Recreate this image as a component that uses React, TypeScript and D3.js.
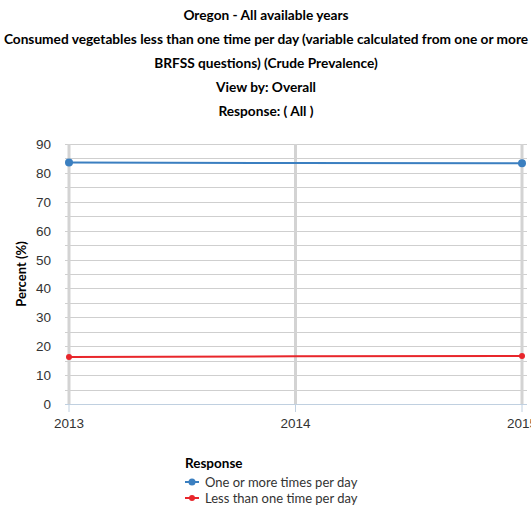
import React, { useEffect, useRef } from 'react';
import * as d3 from 'd3';

const years = ['2013', '2014', '2015'];
const oneOrMore = [83.6, 83.4, 83.3];
const lessThanOne = [16.3, 16.5, 16.6];
const seriesNames = ['One or more times per day', 'Less than one time per day'];
const seriesColors = ['#3b7fc0', '#e8262b'];
const yTicks = [0, 10, 20, 30, 40, 50, 60, 70, 80, 90];
const titleLines = [
  'Oregon - All available years',
  'Consumed vegetables less than one time per day (variable calculated from one or more',
  'BRFSS questions) (Crude Prevalence)',
  'View by: Overall',
  'Response: ( All )',
];

const W = 531;
const H = 508;
const plot = { left: 69, right: 522, top: 144, bottom: 404 };

export default function App() {
  const ref = useRef<SVGSVGElement | null>(null);

  useEffect(() => {
    document.body.style.margin = '0';
    document.body.style.overflow = 'hidden';

    const svg = d3.select(ref.current);
    svg.selectAll('*').remove();

    const x = d3.scalePoint().domain(years).range([plot.left, plot.right]);
    const y = d3.scaleLinear().domain([0, 90]).range([plot.bottom, plot.top]);

    // titles
    svg.append('g')
      .selectAll('text')
      .data(titleLines)
      .join('text')
      .attr('x', 266)
      .attr('y', (d, i) => 20 + i * 24)
      .attr('text-anchor', 'middle')
      .style('font-family', 'Lato')
      .style('font-weight', 'bold')
      .style('font-size', '13.7px')
      .attr('fill', '#000')
      .text(d => d);

    // horizontal grid, every 5
    const minor = d3.range(5, 91, 5);
    svg.append('g')
      .selectAll('line')
      .data(minor)
      .join('line')
      .attr('x1', plot.left - 4)
      .attr('x2', plot.right + 5)
      .attr('y1', d => Math.round(y(d)) + 0.5)
      .attr('y2', d => Math.round(y(d)) + 0.5)
      .attr('stroke', '#cfcfcf')
      .attr('stroke-width', 1);

    // vertical grid at years
    svg.append('g')
      .selectAll('line')
      .data(years)
      .join('line')
      .attr('x1', d => x(d)!)
      .attr('x2', d => x(d)!)
      .attr('y1', plot.top)
      .attr('y2', plot.bottom)
      .attr('stroke', '#d3d3d3')
      .attr('stroke-width', 3);

    // x axis line + ticks
    svg.append('line')
      .attr('x1', plot.left - 4)
      .attr('x2', plot.right + 5)
      .attr('y1', Math.round(y(0)) + 0.5)
      .attr('y2', Math.round(y(0)) + 0.5)
      .attr('stroke', '#c0d0e0');
    svg.append('g')
      .selectAll('line')
      .data(years)
      .join('line')
      .attr('x1', d => x(d)!)
      .attr('x2', d => x(d)!)
      .attr('y1', y(0))
      .attr('y2', y(0) + 8)
      .attr('stroke', '#c0d0e0');

    // y labels
    svg.append('g')
      .selectAll('text')
      .data(yTicks)
      .join('text')
      .attr('x', 51)
      .attr('y', d => y(d) + 5)
      .attr('text-anchor', 'end')
      .style('font-family', 'Liberation Sans, Arial, sans-serif')
      .style('font-size', '13.5px')
      .attr('fill', '#333')
      .text(d => d);

    // x labels
    svg.append('g')
      .selectAll('text')
      .data(years)
      .join('text')
      .attr('x', d => x(d)!)
      .attr('y', 428)
      .attr('text-anchor', 'middle')
      .style('font-family', 'Liberation Sans, Arial, sans-serif')
      .style('font-size', '13.5px')
      .attr('fill', '#333')
      .text(d => d);

    // y axis title
    svg.append('text')
      .attr('transform', `translate(26, ${(plot.top + plot.bottom) / 2}) rotate(-90)`)
      .attr('text-anchor', 'middle')
      .style('font-family', 'Lato')
      .style('font-weight', 'bold')
      .style('font-size', '13px')
      .attr('fill', '#000')
      .text('Percent (%)');

    // lines
    const data = [oneOrMore, lessThanOne];
    const line = d3.line<number>()
      .x((d, i) => x(years[i])!)
      .y(d => y(d));
    data.forEach((vals, k) => {
      svg.append('path')
        .datum(vals)
        .attr('d', line)
        .attr('fill', 'none')
        .attr('stroke', seriesColors[k])
        .attr('stroke-width', 2);
      svg.append('g')
        .selectAll('circle')
        .data(vals.map((v, i) => ({ v, yr: years[i] })).filter(d => d.yr !== years[1]))
        .join('circle')
        .attr('cx', d => x(d.yr)!)
        .attr('cy', d => y(d.v))
        .attr('r', k === 0 ? 4 : 3)
        .attr('fill', seriesColors[k]);
    });

    // legend
    const lg = svg.append('g').attr('transform', 'translate(185, 0)');
    lg.append('text')
      .attr('x', 0)
      .attr('y', 468)
      .style('font-family', 'Lato')
      .style('font-weight', 'bold')
      .style('font-size', '13.5px')
      .attr('fill', '#000')
      .text('Response');
    seriesNames.forEach((name, k) => {
      const yy = 482 + k * 16;
      lg.append('line')
        .attr('x1', 0).attr('x2', 14)
        .attr('y1', yy).attr('y2', yy)
        .attr('stroke', seriesColors[k])
        .attr('stroke-width', 2);
      lg.append('circle')
        .attr('cx', 7).attr('cy', yy)
        .attr('r', k === 0 ? 3.5 : 3)
        .attr('fill', seriesColors[k]);
      lg.append('text')
        .attr('x', 20)
        .attr('y', yy + 5)
        .style('font-family', 'Lato')
        .style('font-size', '13px')
        .attr('fill', '#333')
        .text(name);
    });
  }, []);

  return (
    <svg ref={ref} width={W} height={H} style={{ display: 'block', background: '#fff' }} />
  );
}
